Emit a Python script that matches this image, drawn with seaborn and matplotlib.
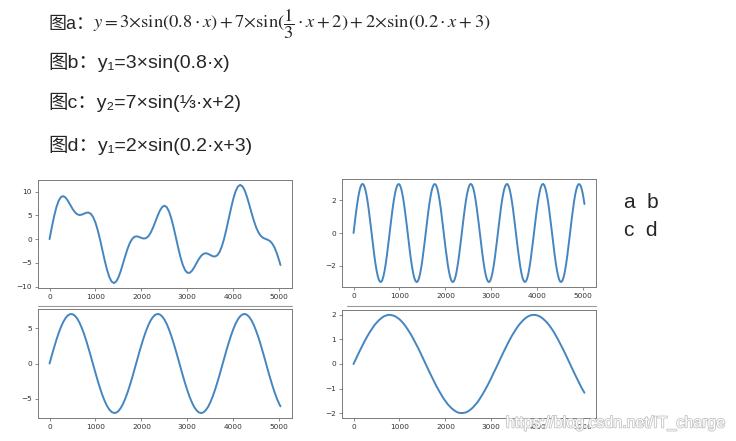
"""Four sine panels (a = b + c + d) under a header with the formulas."""

import matplotlib
matplotlib.use("Agg")
import matplotlib.pyplot as plt
import matplotlib.patheffects as pe
from matplotlib.lines import Line2D
import pandas as pd
import seaborn as sns

# === Data (sample index, value) ===
IDX = list(range(0, 5001, 50)) + [5026]
IDX_B = list(range(0, 5001, 25)) + [5026]   # panel b is denser, it wiggles fast

Y_A = [0.00, 2.53, 4.84, 6.75, 8.11, 8.87, 9.05, 8.74, 8.05, 7.22,
       6.38, 5.69, 5.24, 5.07, 5.14, 5.35, 5.55, 5.58, 5.32, 4.61,
       3.46, 1.83, -0.14, -2.31, -4.47, -6.41, -7.95, -8.93, -9.26, -8.94,
       -8.04, -6.71, -5.12, -3.48, -1.98, -0.77, 0.05, 0.50, 0.59, 0.45,
       0.25, 0.11, 0.20, 0.59, 1.32, 2.36, 3.59, 4.85, 5.97, 6.74,
       7.03, 6.74, 5.83, 4.37, 2.47, 0.35, -1.81, -3.80, -5.41, -6.53,
       -7.09, -7.10, -6.67, -5.93, -5.04, -4.19, -3.52, -3.10, -2.97, -3.10,
       -3.36, -3.60, -3.67, -3.42, -2.73, -1.54, 0.09, 2.10, 4.30, 6.50,
       8.49, 10.07, 11.07, 11.41, 11.09, 10.19, 8.81, 7.15, 5.41, 3.78,
       2.39, 1.36, 0.66, 0.26, 0.04, -0.14, -0.43, -0.97, -1.84, -3.06,
       -4.58, -5.45]

Y_B = [0.00, 0.60, 1.17, 1.69, 2.15, 2.53, 2.80, 2.96, 3.00, 2.92,
       2.73, 2.43, 2.03, 1.55, 1.01, 0.42, -0.18, -0.77, -1.33, -1.84,
       -2.27, -2.61, -2.85, -2.98, -2.99, -2.88, -2.65, -2.32, -1.89, -1.39,
       -0.84, -0.25, 0.35, 0.93, 1.48, 1.97, 2.38, 2.69, 2.90, 2.99,
       2.97, 2.82, 2.56, 2.20, 1.75, 1.23, 0.67, 0.08, -0.52, -1.10,
       -1.63, -2.10, -2.48, -2.77, -2.94, -3.00, -2.94, -2.76, -2.47, -2.08,
       -1.61, -1.08, -0.50, 0.10, 0.69, 1.26, 1.78, 2.22, 2.58, 2.83,
       2.97, 2.99, 2.90, 2.69, 2.37, 1.95, 1.46, 0.91, 0.32, -0.28,
       -0.86, -1.41, -1.91, -2.33, -2.66, -2.88, -2.99, -2.98, -2.85, -2.60,
       -2.25, -1.81, -1.30, -0.74, -0.15, 0.45, 1.03, 1.57, 2.05, 2.44,
       2.74, 2.93, 3.00, 2.95, 2.79, 2.51, 2.13, 1.67, 1.14, 0.57,
       -0.03, -0.62, -1.19, -1.71, -2.17, -2.54, -2.80, -2.96, -3.00, -2.92,
       -2.72, -2.41, -2.01, -1.53, -0.98, -0.40, 0.20, 0.79, 1.35, 1.86,
       2.29, 2.63, 2.86, 2.98, 2.99, 2.87, 2.64, 2.30, 1.87, 1.37,
       0.81, 0.22, -0.38, -0.96, -1.50, -1.99, -2.40, -2.71, -2.91, -2.99,
       -2.96, -2.81, -2.55, -2.18, -1.73, -1.21, -0.64, -0.05, 0.55, 1.12,
       1.65, 2.12, 2.50, 2.78, 2.95, 3.00, 2.93, 2.74, 2.45, 2.06,
       1.59, 1.05, 0.47, -0.13, -0.72, -1.29, -1.80, -2.24, -2.59, -2.84,
       -2.98, -2.99, -2.89, -2.67, -2.35, -1.93, -1.44, -0.89, -0.30, 0.30,
       0.89, 1.44, 1.94, 2.35, 2.67, 2.89, 2.99, 2.97, 2.84, 2.59,
       2.24, 1.77]

Y_C = [0.00, 1.16, 2.29, 3.36, 4.33, 5.18, 5.89, 6.44, 6.80, 6.98,
       6.97, 6.76, 6.37, 5.79, 5.06, 4.19, 3.20, 2.12, 0.99, -0.18,
       -1.33, -2.46, -3.51, -4.47, -5.30, -5.98, -6.50, -6.84, -6.99, -6.95,
       -6.71, -6.29, -5.69, -4.94, -4.05, -3.04, -1.96, -0.81, 0.35, 1.51,
       2.62, 3.66, 4.60, 5.41, 6.07, 6.57, 6.88, 7.00, 6.93, 6.66,
       6.21, 5.59, 4.81, 3.90, 2.88, 1.79, 0.64, -0.53, -1.68, -2.78,
       -3.81, -4.73, -5.52, -6.16, -6.62, -6.91, -7.00, -6.90, -6.60, -6.13,
       -5.48, -4.68, -3.76, -2.72, -1.62, -0.46, 0.70, 1.85, 2.94, 3.95,
       4.86, 5.63, 6.24, 6.68, 6.93, 7.00, 6.87, 6.54, 6.04, 5.37,
       4.55, 3.61, 2.56, 1.45, 0.29, -0.88, -2.02, -3.10, -4.10, -4.98,
       -5.73, -6.05]

Y_D = [0.00, 0.20, 0.40, 0.59, 0.78, 0.96, 1.13, 1.29, 1.43, 1.57,
       1.68, 1.78, 1.86, 1.93, 1.97, 2.00, 2.00, 1.98, 1.95, 1.89,
       1.82, 1.73, 1.62, 1.49, 1.35, 1.20, 1.03, 0.85, 0.67, 0.48,
       0.28, 0.08, -0.12, -0.32, -0.51, -0.70, -0.89, -1.06, -1.22, -1.38,
       -1.51, -1.64, -1.74, -1.83, -1.90, -1.96, -1.99, -2.00, -1.99, -1.97,
       -1.92, -1.85, -1.77, -1.66, -1.55, -1.41, -1.26, -1.10, -0.93, -0.75,
       -0.56, -0.36, -0.17, 0.03, 0.23, 0.43, 0.62, 0.81, 0.99, 1.16,
       1.31, 1.46, 1.59, 1.70, 1.80, 1.88, 1.94, 1.98, 2.00, 2.00,
       1.98, 1.94, 1.88, 1.80, 1.71, 1.60, 1.47, 1.33, 1.17, 1.00,
       0.82, 0.64, 0.45, 0.25, 0.05, -0.15, -0.35, -0.54, -0.73, -0.92,
       -1.09, -1.17]

XTICKS = [0, 1000, 2000, 3000, 4000, 5000]
YTICKS_A = [-10, -5, 0, 5, 10]
YTICKS_B = [-2, 0, 2]
YTICKS_C = [-5, 0, 5]
YTICKS_D = [-2, -1, 0, 1, 2]

HEAD_A = "图a："
FORMULA_A = (r"$y=3{\times}\sin(0.8\cdot x)+7{\times}\sin(\dfrac{1}{3}\cdot x+2)"
             r"+2{\times}\sin(0.2\cdot x+3)$")
LINE_B = "图b：y₁=3×sin(0.8·x)"
LINE_C = "图c：y₂=7×sin(⅓·x+2)"
LINE_D = "图d：y₁=2×sin(0.2·x+3)"
GRID_NOTE = ["a  b", "c  d"]
WATERMARK = "https://blog.csdn.net/IT_charge"

LINE_COLOR = "#4585c0"
FRAME_COLOR = "#7a7a7a"

sns.set_theme(style="ticks")
plt.rcParams["font.family"] = ["Liberation Sans", "Noto Sans CJK SC", "DejaVu Sans"]

W, H = 736, 441
fig = plt.figure(figsize=(W / 100, H / 100), dpi=100)
fig.patch.set_facecolor("white")


def px_axes(left, top, right, bottom):
    return fig.add_axes([left / W, 1 - bottom / H, (right - left) / W, (bottom - top) / H])


panels = [
    (px_axes(38, 180, 292, 288), IDX, Y_A, YTICKS_A),
    (px_axes(342, 179, 596, 287), IDX_B, Y_B, YTICKS_B),
    (px_axes(38, 309, 292, 418), IDX, Y_C, YTICKS_C),
    (px_axes(342, 310, 596, 418), IDX, Y_D, YTICKS_D),
]

for ax, xs, vals, yt in panels:
    df = pd.DataFrame({"i": xs, "y": vals})
    sns.lineplot(data=df, x="i", y="y", ax=ax, color=LINE_COLOR, linewidth=1.4)
    ax.margins(x=0.05, y=0.05)
    ax.set_xticks(XTICKS)
    ax.set_yticks(yt)
    ax.set_xlabel("")
    ax.set_ylabel("")
    ax.set_facecolor("white")
    for sp in ax.spines.values():
        sp.set_visible(True)
        sp.set_color(FRAME_COLOR)
        sp.set_linewidth(0.7)
    ax.tick_params(labelsize=5.3, colors="#333333", length=2.5, width=0.6,
                   pad=2, labelfontfamily="DejaVu Sans")
    ax.tick_params(color=FRAME_COLOR)

# screenshot edges just under the top row
for x0, x1 in [(38, 292), (347, 596)]:
    fig.add_artist(Line2D([x0 / W, x1 / W], [1 - 306 / H] * 2,
                          color="#9a9a9a", linewidth=0.8))

# === header text ===
fs = 14
fig.text(48 / W, 1 - 24 / H, HEAD_A, fontsize=13, va="center", ha="left")
fig.text(93 / W, 1 - 24 / H, FORMULA_A, fontsize=13.3, va="center", ha="left",
         math_fontfamily="stix")
fig.text(48 / W, 1 - 62 / H, LINE_B, fontsize=fs, va="center", ha="left")
fig.text(48 / W, 1 - 102 / H, LINE_C, fontsize=fs, va="center", ha="left")
fig.text(48 / W, 1 - 145 / H, LINE_D, fontsize=fs, va="center", ha="left")

fig.text(624 / W, 1 - 203 / H, GRID_NOTE[0], fontsize=15, va="center", ha="left")
fig.text(624 / W, 1 - 231 / H, GRID_NOTE[1], fontsize=15, va="center", ha="left")

fig.text(726 / W, 1 - 423 / H, WATERMARK, fontsize=11.5, va="center", ha="right",
         color="white",
         path_effects=[pe.withStroke(linewidth=1.2, foreground="#c4c4c4")])

fig.savefig("out.png", dpi=100)
